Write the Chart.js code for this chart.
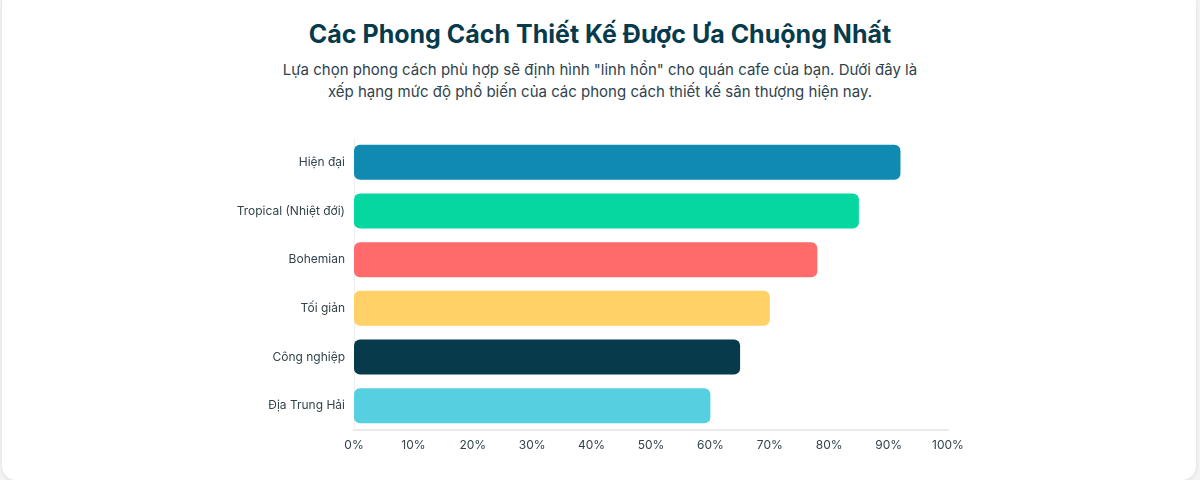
<!DOCTYPE html>
<html lang="vi">
<head>
<meta charset="utf-8">
<script src="https://cdn.jsdelivr.net/npm/chart.js@4/dist/chart.umd.min.js"></script>
<style>
  html, body { margin: 0; padding: 0; background: #f3f4f6; }
  .card {
    position: absolute; left: 2px; top: -10px; width: 1194px; height: 490px;
    background: #ffffff; border-radius: 14px;
    box-shadow: 0 1px 4px rgba(0,0,0,0.10);
  }
  h1 {
    position: absolute; left: 0; top: 17px; width: 1200px; margin: 0;
    text-align: center; font-family: Inter, "Noto Sans", sans-serif;
    font-weight: 700; font-size: 25px; line-height: 34px; color: #073b4c;
  }
  p.sub {
    position: absolute; left: 0; top: 59px; width: 1200px; margin: 0;
    text-align: center; font-family: Inter, "Noto Sans", sans-serif;
    font-size: 15px; line-height: 22px; color: #2f434c;
  }
  #wrap { position: absolute; left: 0; top: 0; width: 1200px; height: 480px; }
</style>
</head>
<body>
<div class="card"></div>
<h1>Các Phong Cách Thiết Kế Được Ưa Chuộng Nhất</h1>
<p class="sub">Lựa chọn phong cách phù hợp sẽ định hình "linh hồn" cho quán cafe của bạn. Dưới đây là<br>xếp hạng mức độ phổ biến của các phong cách thiết kế sân thượng hiện nay.</p>
<div id="wrap"><canvas id="c"></canvas></div>
<script>
const categories = ["Hiện đại", "Tropical (Nhiệt đới)", "Bohemian", "Tối giản", "Công nghiệp", "Địa Trung Hải"];
const popularity = [92, 85, 78, 70, 65, 60];
const barColors = ["#118ab2", "#06d6a0", "#ff6b6b", "#ffd166", "#073b4c", "#56cfe1"];
const xTicks = [0, 10, 20, 30, 40, 50, 60, 70, 80, 90, 100];

new Chart(document.getElementById("c"), {
  type: "bar",
  data: {
    labels: categories,
    datasets: [{
      data: popularity,
      backgroundColor: barColors,
      borderRadius: 6,
      borderSkipped: false,
      barPercentage: 0.72,
      categoryPercentage: 1.0
    }]
  },
  options: {
    indexAxis: "y",
    responsive: true,
    maintainAspectRatio: false,
    animation: false,
    layout: { padding: { left: 204, right: 252, top: 138, bottom: 20 } },
    plugins: { legend: { display: false }, tooltip: { enabled: false } },
    scales: {
      x: {
        min: 0, max: 100,
        afterBuildTicks: (s) => { s.ticks = xTicks.map(v => ({ value: v })); },
        afterFit: (s) => { s.height = 30; },
        grid: { display: false, drawTicks: false },
        border: { display: true, color: "#e8eaec", width: 2 },
        ticks: {
          padding: 8,
          color: "#33434b",
          font: { family: "Inter, 'Noto Sans', sans-serif", size: 12 },
          callback: (v) => v + "%"
        }
      },
      y: {
        afterFit: (s) => { s.width = 150; },
        grid: { display: false, drawTicks: false },
        border: { display: true, color: "#eceef0", width: 1 },
        ticks: {
          padding: 9,
          color: "#33434b",
          font: { family: "Inter, 'Noto Sans', sans-serif", size: 12 }
        }
      }
    }
  }
});
</script>
</body>
</html>
